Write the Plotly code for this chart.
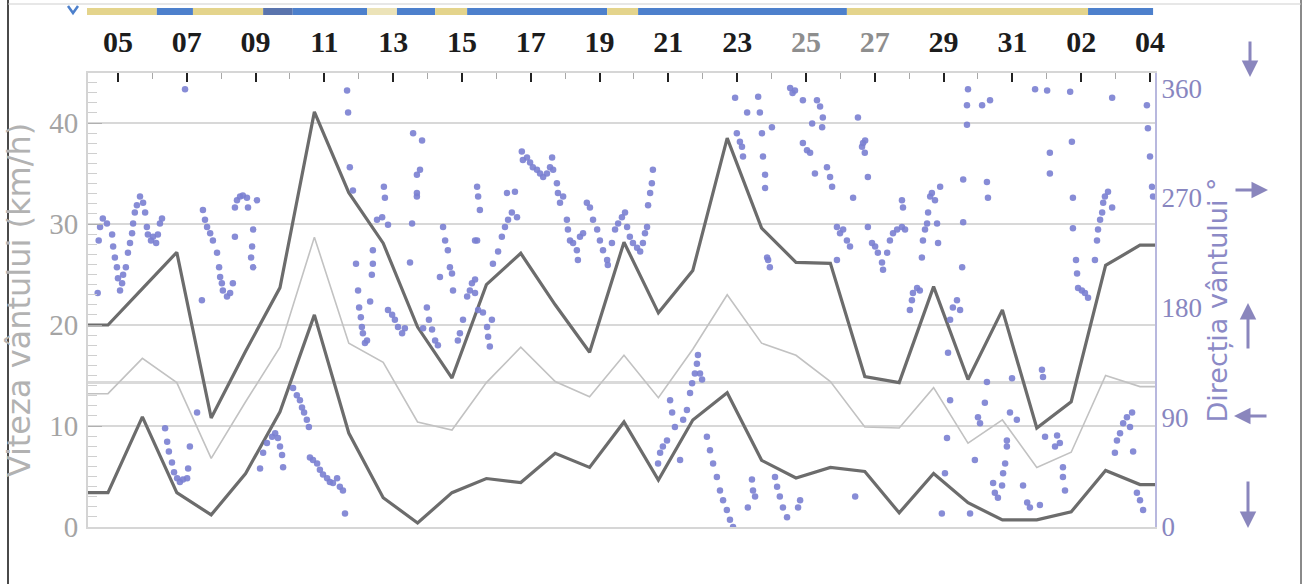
import plotly.graph_objects as go

# ---- daily wind speed (km/h), one value per day -------------------------
day_labels = ["05", "06", "07", "08", "09", "10", "11", "12", "13", "14",
              "15", "16", "17", "18", "19", "20", "21", "22", "23", "24",
              "25", "26", "27", "28", "29", "30", "31", "01", "02", "03", "04"]
days = list(range(len(day_labels)))

wind_max = [20.0, 23.6, 27.2, 10.8, 17.4, 23.7, 41.1, 33.1, 28.1, 19.8,
            14.75, 24.0, 27.1, 22.0, 17.3, 28.2, 21.2, 25.4, 38.5, 29.6,
            26.2, 26.1, 14.9, 14.3, 23.8, 14.6, 21.5, 9.8, 12.4, 25.9, 27.9]
wind_mean = [13.2, 16.7, 14.3, 6.8, 12.4, 17.8, 28.7, 18.2, 16.3, 10.4,
             9.6, 14.3, 17.8, 14.4, 12.9, 17.0, 12.8, 17.6, 23.0, 18.2,
             17.0, 14.4, 9.9, 9.8, 13.8, 8.3, 10.6, 5.9, 7.4, 15.0, 13.9]
wind_min = [3.4, 10.9, 3.4, 1.2, 5.3, 11.4, 21.0, 9.3, 2.9, 0.4,
            3.4, 4.8, 4.4, 7.3, 5.9, 10.4, 4.65, 10.6, 13.3, 6.6,
            4.85, 5.9, 5.5, 1.4, 5.3, 2.4, 0.7, 0.7, 1.5, 5.6, 4.2]

# ---- wind direction readings (day offset, degrees) -----------------------
dir_day = [
    -0.30, -0.27, -0.23, -0.15, -0.03, 0.12, 0.15, 0.20, 0.26, 0.29, 0.35, 0.41, 0.44, 0.52,
    0.58, 0.64, 0.70, 0.73, 0.78, 0.84, 0.93, 1.02, 1.08, 1.13, 1.16, 1.25, 1.31, 1.40, 1.45,
    1.51, 1.57,
    1.66, 1.72, 1.77, 1.86, 1.92, 2.01, 2.09, 2.18, 2.24, 2.30, 2.33, 2.38, 2.59,
    2.73, 2.76, 2.82, 2.88, 2.97, 3.05, 3.17, 3.23, 3.26, 3.31, 3.34, 3.46, 3.55, 3.63,
    3.69, 3.69, 3.75, 3.84, 3.92, 4.04, 4.07, 4.16, 4.19, 4.22, 4.22, 4.33,
    4.42, 4.51, 4.62, 4.77, 4.86, 4.94, 5.00, 5.06, 5.09,
    5.38, 5.49, 5.58, 5.64, 5.70, 5.78, 5.84,
    5.87, 5.96, 6.08, 6.16, 6.25, 6.37, 6.45, 6.54, 6.66, 6.74, 6.83, 6.89, 6.95, 6.98,
    7.03, 7.12, 7.21, 7.27, 7.30, 7.35, 7.38, 7.41, 7.47, 7.53, 7.62, 7.67, 7.70, 7.70,
    7.82, 7.97, 8.02, 8.05, 8.14,
    8.14, 8.26, 8.34, 8.43, 8.55, 8.63,
    8.78, 8.84, 8.87, 8.98, 8.98, 8.98, 9.07, 9.13,
    9.16, 9.27, 9.33, 9.42, 9.51, 9.59,
    9.65, 9.74, 9.80, 9.88, 9.94, 10.00, 10.03,
    10.17, 10.23, 10.32, 10.44, 10.52, 10.58, 10.67, 10.67, 10.67, 10.73, 10.73, 10.76,
    10.76, 10.81, 10.90, 11.02, 11.05, 11.10, 11.16,
    11.19, 11.34, 11.45, 11.54, 11.60, 11.63, 11.74, 11.83, 11.89,
    12.03, 12.06, 12.18, 12.27, 12.35, 12.47, 12.56, 12.65, 12.76, 12.85, 12.91, 12.94,
    13.05, 13.08, 13.14, 13.23,
    13.34, 13.37, 13.43, 13.52, 13.63, 13.66, 13.72, 13.81, 13.92, 14.01, 14.10, 14.22,
    14.30, 14.39, 14.51, 14.53, 14.65, 14.74, 14.83, 14.94, 15.03, 15.09, 15.17, 15.26,
    15.38, 15.47, 15.55, 15.61, 15.67,
    15.70, 15.76, 15.81, 15.84,
    15.99, 16.05, 16.13, 16.25, 16.34, 16.40, 16.48, 16.63, 16.72, 16.83, 16.92, 16.98,
    17.06, 17.12, 17.15, 17.21, 17.27,
    17.41, 17.50, 17.59, 17.70, 17.79, 17.88, 17.99, 18.08, 18.17,
    18.23, 18.28, 18.37, 18.43, 18.46, 18.58, 18.60, 18.72, 18.75, 18.81, 18.90, 18.95,
    19.01, 19.04, 19.10, 19.10, 19.16, 19.19, 19.24, 19.30,
    19.39, 19.45, 19.53, 19.62, 19.74, 19.83, 19.90, 19.97, 20.06, 20.12,
    20.20, 20.20, 20.32, 20.41, 20.47, 20.55, 20.61, 20.70, 20.76, 20.78, 20.90, 20.99,
    21.05, 21.19, 21.19, 21.28, 21.37, 21.48, 21.57, 21.66, 21.72, 21.80, 21.92, 21.95,
    22.00, 22.01, 22.09, 22.09,
    22.21, 22.30, 22.38, 22.50, 22.53, 22.65, 22.73, 22.82, 22.94, 23.08, 23.08, 23.11,
    23.17,
    23.31, 23.37, 23.40, 23.52, 23.60,
    23.66, 23.69, 23.75, 23.81, 23.84, 23.90, 23.95, 24.04, 24.10, 24.13, 24.19,
    24.24, 24.33, 24.39, 24.42, 24.48, 24.48, 24.56, 24.68, 24.77, 24.83, 24.86, 24.86,
    24.97, 24.97, 25.00, 25.06, 25.20, 25.29, 25.35, 25.41, 25.49, 25.55, 25.55, 25.58,
    25.64, 25.73, 25.78, 25.87, 25.99, 26.02, 26.08, 26.13, 26.13, 26.22, 26.28, 26.42,
    26.60, 26.72, 26.80, 26.95, 27.09, 27.15, 27.18, 27.24, 27.30, 27.38, 27.38, 27.53,
    27.59, 27.67, 27.76, 27.76, 27.82, 27.97, 28.02, 28.05, 28.05, 28.14, 28.17, 28.20,
    28.31, 28.40, 28.49, 28.69, 28.75, 28.78, 28.84, 28.90, 28.93, 28.98, 29.07, 29.19,
    29.19,
    29.27, 29.33, 29.42, 29.51, 29.62, 29.71, 29.77, 29.80, 29.91, 30.00, 30.09, 30.20,
    30.23, 30.29, 30.35, 30.38,
]
dir_deg = [
    192, 235, 246, 253, 249, 240, 230, 221, 213, 204, 194, 200, 207, 213,
    225, 233, 241, 249, 258, 264, 271, 266, 258, 246, 240, 235, 238, 233, 240,
    249, 253,
    81, 70, 62, 53, 45, 40, 37, 39, 359, 40, 48, 66, 94,
    186, 260, 252, 246, 241, 235, 225, 213, 205, 200, 194, 189, 192, 200,
    262, 238, 268, 271, 272, 270, 262, 221, 230, 244, 213, 268,
    48, 61, 69, 74, 77, 73, 66, 59, 49,
    114, 108, 104, 98, 94, 88, 82,
    57, 55, 52, 47, 43, 40, 37, 36, 40, 33, 30, 11, 358, 340,
    295, 276, 216, 194, 180, 172, 164, 159, 151, 153, 185, 207, 216, 227,
    252, 254, 279, 270, 248,
    178, 174, 170, 164, 159, 163,
    217, 249, 323, 289, 271, 274, 293, 317,
    163, 180, 170, 162, 153, 149,
    205, 246, 235, 227, 213, 208, 194,
    153, 159, 170, 189, 194, 200, 192, 203, 235, 279, 235, 271,
    178, 260, 176, 164, 156, 148, 170,
    216, 226, 238, 246, 274, 252, 258, 275, 254,
    308, 301, 303, 299, 295, 293, 290, 287, 290, 295, 303, 293,
    282, 274, 266, 271,
    252, 244, 235, 233, 227, 219, 238, 241, 266, 262, 252, 244,
    235, 227, 219, 215, 233, 244, 249, 254, 258, 246, 238, 233,
    229, 226, 233, 241, 246,
    264, 274, 282, 293,
    52, 61, 66, 71, 104, 94, 82, 55, 88, 96, 110, 118,
    126, 134, 141, 126, 121,
    74, 63, 52, 41, 30, 22, 14, 6, 0,
    352, 323, 316, 312, 304, 340, 16, 39, 30, 25, 353, 340,
    323, 304, 289, 278, 221, 219, 213, 328,
    41, 33, 25, 16, 8, 360, 356, 358, 16, 22,
    350, 315, 309, 307, 331, 290, 350, 345, 328, 336, 295, 287,
    279, 246, 219, 241, 244, 235, 230, 270, 25, 336, 312, 315,
    307, 317, 287, 246,
    233, 230, 225, 217, 211, 225, 235, 241, 244, 246, 268, 262,
    244,
    178, 186, 192, 196, 194,
    221, 235, 244, 249, 258, 271, 274, 268, 249, 233, 279,
    11, 44, 73, 143, 170, 104, 180, 186, 178, 213, 250, 285,
    346, 330, 359, 11, 55, 90, 85, 346, 102, 119, 283, 270,
    350, 36, 28, 24, 34, 44, 52, 66, 71, 94, 122, 88,
    34, 20, 16, 359, 18, 129, 123, 74, 358, 307, 290, 66,
    75, 69, 41, 49, 30, 357, 316, 270, 245, 219, 208, 196,
    194, 192, 188, 219, 235, 244, 252, 258, 266, 271, 275, 262,
    352,
    61, 71, 77, 85, 90, 82, 94, 62, 28, 22, 14, 346,
    327, 304, 279, 271,
]

# ---- sky condition strip along the top (day offsets) ---------------------
sky_edges = [-0.61, 1.42, 2.47, 4.51, 5.37, 7.53, 8.40, 9.51, 10.44, 14.51,
             15.41, 21.48, 28.49, 30.38]
sky_state = ["sun", "cloud", "sun", "overcast", "cloud", "haze", "cloud",
             "sun", "cloud", "sun", "cloud", "sun", "cloud"]
sky_colors = {"sun": "#e4d48c", "cloud": "#4d80cc", "overcast": "#5a74ad",
              "haze": "#ece3b8"}

# ---- layout geometry ------------------------------------------------------
W, H = 1306, 584
M_L, M_R, M_T, M_B = 88, 151, 73, 57
PLOT_W = W - M_L - M_R
PLOT_H = H - M_T - M_B
X_RANGE = [-0.581, 30.436]
SPEED_RANGE = [0, 44.95]
DIR_RANGE = [0, 372.4]
TICK_SHIFT = 0.29


def px_x(px):
    return (px - M_L) / PLOT_W


def px_y(py):
    return (H - M_B - py) / PLOT_H


def day_to_paper(d):
    return (d - X_RANGE[0]) / (X_RANGE[1] - X_RANGE[0])


def padded(values):
    # extend the daily polyline flat to both edges of the plot
    return [X_RANGE[0]] + days + [X_RANGE[1]], [values[0]] + values + [values[-1]]


fig = go.Figure()

fig.add_trace(go.Scatter(
    x=dir_day, y=dir_deg, yaxis="y2", mode="markers",
    marker=dict(size=6.5, color="#7a7fd1", opacity=0.9),
    hoverinfo="skip", showlegend=False,
))

for series, color, width in [(wind_max, "#6c6c6c", 3.2),
                             (wind_mean, "#c2c2c2", 1.6),
                             (wind_min, "#6c6c6c", 3.2)]:
    xs, ys = padded(series)
    fig.add_trace(go.Scatter(x=xs, y=ys, mode="lines",
                             line=dict(color=color, width=width),
                             hoverinfo="skip", showlegend=False))

label_idx = days[::2]
faded = {"25", "27"}
tick_text = [
    f"<span style='color:#8e8e8e'>{day_labels[i]}</span>" if day_labels[i] in faded
    else day_labels[i]
    for i in label_idx
]

shapes = []
# sky strip
for k, state in enumerate(sky_state):
    shapes.append(dict(
        type="rect", xref="paper", yref="paper",
        x0=max(day_to_paper(sky_edges[k]), px_x(87)),
        x1=day_to_paper(sky_edges[k + 1]),
        y0=px_y(15), y1=px_y(8),
        fillcolor=sky_colors[state], line=dict(width=0), layer="above",
    ))
# reference level line
shapes.append(dict(type="line", xref="paper", yref="y", x0=0, x1=1,
                   y0=14.3, y1=14.3, line=dict(color="#dadada", width=3),
                   layer="below"))
# outer frame
shapes.append(dict(type="line", xref="paper", yref="paper",
                   x0=px_x(8), x1=px_x(8), y0=px_y(0), y1=px_y(H),
                   line=dict(color="#4a4a4a", width=2)))
shapes.append(dict(type="line", xref="paper", yref="paper",
                   x0=px_x(1301), x1=px_x(1301), y0=px_y(0), y1=px_y(H),
                   line=dict(color="#8a8a8a", width=2)))
shapes.append(dict(type="line", xref="paper", yref="paper",
                   x0=px_x(8), x1=px_x(1301), y0=px_y(4), y1=px_y(4),
                   line=dict(color="#cfcfcf", width=1)))
# small chevron at the strip start
shapes.append(dict(type="path", xref="paper", yref="paper",
                   path=f"M {px_x(68)} {px_y(6)} L {px_x(73)} {px_y(13)} L {px_x(78)} {px_y(6)}",
                   line=dict(color="#4d80cc", width=2.5)))

# compass arrows beside the direction axis: (tip x, tip y, dx, dy) in pixels
compass = [(1250, 77, 0, -37), (1268, 190, -34, 0), (1248, 303, 0, 47),
           (1234, 416, 34, 0), (1248, 528, 0, -48)]
annotations = [
    dict(xref="paper", yref="paper", x=px_x(tx), y=px_y(ty), ax=dx, ay=dy,
         axref="pixel", ayref="pixel", text="", showarrow=True,
         arrowhead=2, arrowsize=1.1, arrowwidth=3, arrowcolor="#8a86bd")
    for tx, ty, dx, dy in compass
]

fig.update_layout(
    width=W, height=H,
    margin=dict(l=M_L, r=M_R, t=M_T, b=M_B),
    paper_bgcolor="white", plot_bgcolor="white",
    showlegend=False,
    shapes=shapes, annotations=annotations,
    xaxis=dict(
        range=X_RANGE, side="top", showgrid=False, zeroline=False,
        tickmode="array", tickvals=[i + TICK_SHIFT for i in label_idx], ticktext=tick_text,
        ticks="inside", ticklen=9, tickwidth=2, tickcolor="#222222",
        minor=dict(tickmode="array", tickvals=[i + TICK_SHIFT for i in days],
                   ticks="inside", ticklen=6, tickwidth=1, tickcolor="#a8a8a8"),
        showline=True, linecolor="#d6d6d6", linewidth=2, mirror=True,
        tickfont=dict(family="Liberation Serif, serif",
                      size=30, color="#1c1c1c", weight="bold"),
        ticklabelstandoff=7,
    ),
    yaxis=dict(
        range=SPEED_RANGE, tickvals=[0, 10, 20, 30, 40],
        showgrid=True, gridcolor="#d8d8d8", gridwidth=2, zeroline=False,
        ticks="inside", ticklen=14, tickcolor="#b0b0b0",
        minor=dict(dtick=1, ticks="inside", ticklen=9, tickcolor="#cfcfcf"),
        showline=True, linecolor="#d4d4d4", linewidth=2,
        tickfont=dict(family="Liberation Serif, serif", size=29, color="#a4a4a4"),
        ticklabelstandoff=2,
        title=dict(text="Viteza vântului (km/h)", standoff=14,
                   font=dict(family="DejaVu Sans, sans-serif", size=32, color="#b2b2b2")),
    ),
    yaxis2=dict(
        range=DIR_RANGE, overlaying="y", side="right", showgrid=False, zeroline=False,
        tickvals=[0, 90, 180, 270, 360], ticks="",
        showline=True, linecolor="#b8b8de", linewidth=2,
        tickfont=dict(family="Liberation Serif, serif", size=27, color="#8886c0"),
        ticklabelstandoff=-1,
        title=dict(text="Direcția vântului °", standoff=0,
                   font=dict(family="DejaVu Sans, sans-serif", size=27, color="#8c8ac6")),
    ),
)

fig.write_html("out.html")
